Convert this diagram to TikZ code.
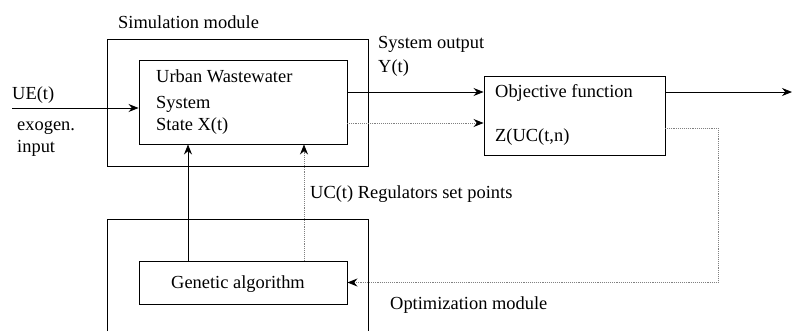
\documentclass[tikz,border=0pt]{standalone}
\usepackage{fontspec}
\setmainfont{Liberation Serif}
\usetikzlibrary{arrows.meta,calc}
\begin{document}
\begin{tikzpicture}[x=1bp,y=-1bp,
  every node/.style={font=\fontsize{18.5}{22}\selectfont, inner sep=0pt},
  box/.style={draw, line width=0.9bp, rectangle},
  lbl/.style={anchor=base west},
  arr/.style={line width=0.9bp, -{Stealth[length=10bp,width=8bp]}},
  dotarr/.style={line width=0.9bp, densely dotted, draw=gray, -{Stealth[length=10bp,width=8bp,color=black]}},
  dotline/.style={line width=0.9bp, densely dotted, draw=gray}]
\useasboundingbox (0,0) rectangle (792,331);
% boxes
\node[box, minimum width=261bp, minimum height=127bp] (sim) at (237.5,102.5) {};
\node[box, minimum width=208bp, minimum height=84bp] (uww) at (243,102) {};
\node[box, minimum width=181bp, minimum height=79bp] (obj) at (574.5,115.5) {};
\node[box, minimum width=208bp, minimum height=43bp] (ga) at (243,282.5) {};
\draw[line width=0.9bp] (107,331) -- (107,219) -- (368,219) -- (368,331);
% texts
\node[lbl] (tsim) at (118,28) {Simulation module};
\node[lbl] (tue) at (12,99) {UE(t)};
\node[lbl] (texo) at (17,130) {exogen.};
\node[lbl] (tinp) at (17,152) {input};
\node[lbl] (tuww1) at (156,82) {Urban Wastewater};
\node[lbl] (tuww2) at (156,108) {System};
\node[lbl] (tuww3) at (156,130) {State X(t)};
\node[lbl] (tso1) at (378,48) {System output};
\node[lbl] (tso2) at (378,72) {Y(t)};
\node[lbl] (tobj1) at (495,97) {Objective function};
\node[lbl] (tobj2) at (495,141) {Z(UC(t,n)};
\node[lbl] (tuc) at (310,198) {UC(t) Regulators set points};
\node[lbl] (tga) at (171,288) {Genetic algorithm};
\node[lbl] (topt) at (390,309) {Optimization module};
% coordinates
\coordinate (ue) at (12,108);
\coordinate (y1) at (347,92);
\coordinate (x1) at (347,123);
\coordinate (zo) at (665,128);
\coordinate (corner) at (718,128);
\coordinate (out) at (792,92);
\coordinate (c1) at (188,0);
\coordinate (c2) at (304,0);
% connectors
\draw[arr] (ue) -- (ue -| uww.west);
\draw[arr] (y1) -- (y1 -| obj.west);
\draw[dotarr] (x1) -- (x1 -| obj.west);
\draw[arr] (y1 -| obj.east) -- (out);
\draw[dotarr] (zo) -- (corner) -- (corner |- ga.east) -- (ga.east);
\draw[arr] (ga.north -| c1) -- (uww.south -| c1);
\draw[dotarr] (ga.north -| c2) -- (uww.south -| c2);
\end{tikzpicture}
\end{document}
